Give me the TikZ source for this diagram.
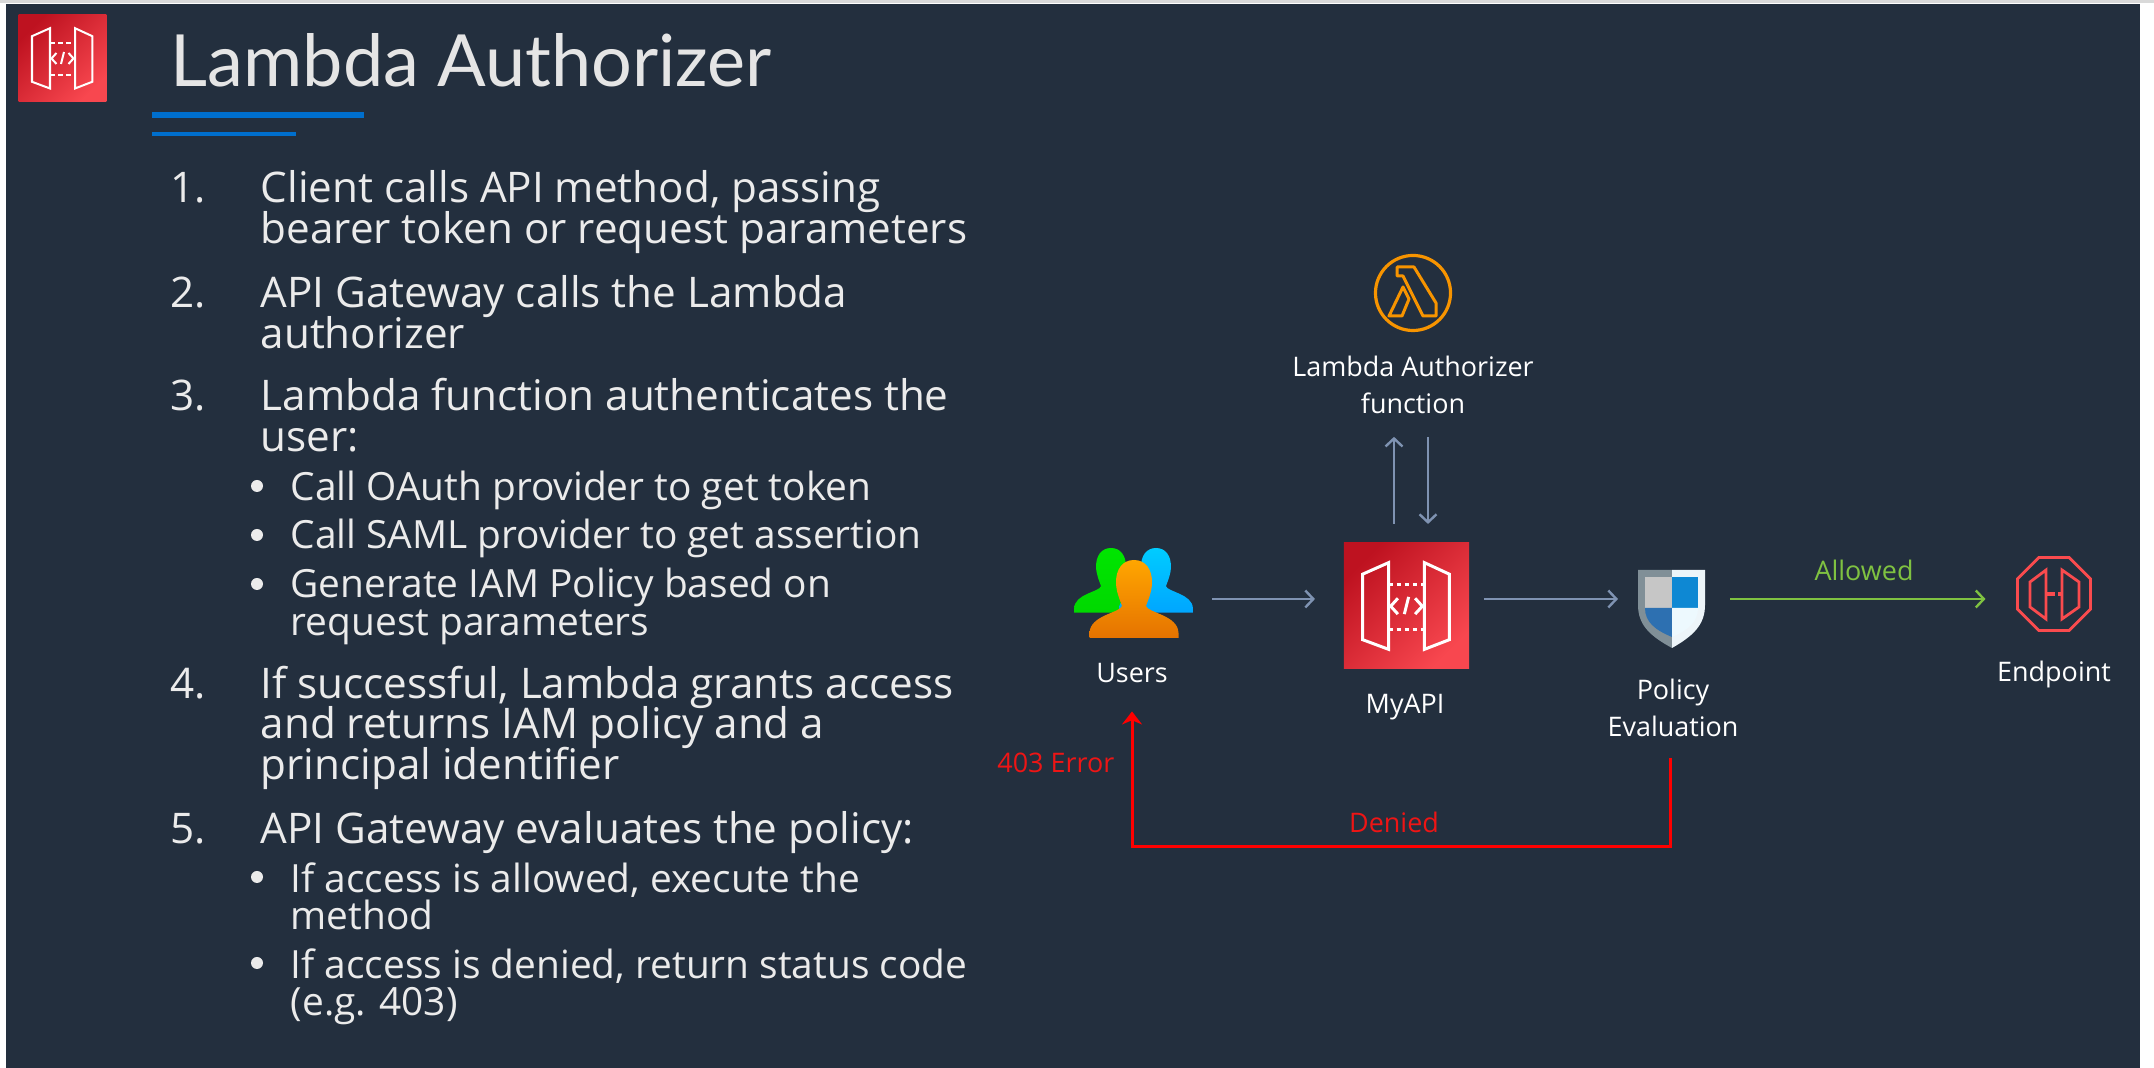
\documentclass[tikz,border=0pt]{standalone}
\usepackage{fontspec}
\setmainfont{Open Sans}
\newfontfamily\titlefont{Lato}
\usetikzlibrary{arrows.meta, shapes.geometric}

\definecolor{slate}{HTML}{232F3E}
\definecolor{flowgray}{HTML}{7F93B2}
\definecolor{allowgreen}{HTML}{7FC241}
\definecolor{denyred}{HTML}{FF0000}
\definecolor{errorred}{HTML}{EE1515}
\definecolor{lambdaorange}{HTML}{F79400}
\definecolor{endred}{HTML}{FA4B4E}
\definecolor{barblue}{HTML}{006FCD}
\definecolor{apilow}{HTML}{BE1220}
\definecolor{apihigh}{HTML}{F8474F}

\tikzset{
  itemtext/.style={anchor=base west, inner sep=0, text=white!92!black, font=\fontsize{12}{14}\selectfont},
  subtext/.style={itemtext, font=\fontsize{11.05}{14}\selectfont},
  difflabel/.style={inner sep=0, align=center, text=white, font=\fontsize{7.66}{10.67}\selectfont},
  iconbox/.style={inner sep=0, outer sep=0},
  apibox/.style={iconbox, shading=axis, left color=apilow, right color=apihigh, shading angle=45},
  flow/.style={flowgray, line width=.024cm, -{Straight Barb[length=.08cm, width=.17cm]}},
  allow/.style={allowgreen, line width=.024cm, -{Straight Barb[length=.08cm, width=.17cm]}},
  deny/.style={denyred, line width=.03cm, -{Stealth[length=.13cm, width=.2cm]}},
  pics/apidoors/.style={code={
      \draw[white] (-30.5,-21.8) -- (-12.5,-29.8) -- (-12.5,30.5) -- (-30.5,23.8) -- cycle;
      \draw[white] (12.5,-29.8) -- (29.8,-21.8) -- (29.8,23.8) -- (12.5,30.5) -- cycle;
      \draw[white, dash pattern=on 1.3pt off 1pt] (-12.5,-14.5) -- (12.5,-14.5);
      \draw[white, dash pattern=on 1.3pt off 1pt] (-12.5,17) -- (12.5,17);
      \draw[white] (-6,-5) -- (-11,.5) -- (-6,6);
      \draw[white] (6,-5) -- (11,.5) -- (6,6);
      \draw[white] (-1.5,6) -- (1.5,-6);
  }},
  pics/person/.style 2 args={code={
      \shade[top color=#1, bottom color=#2]
        (0,0) .. controls (-12,0) and (-18,10) .. (-18,22)
        .. controls (-18,32) and (-14,40) .. (-12,46)
        .. controls (-14,53) and (-44,55) .. (-44.5,73) -- (-44.5,78) -- (44.5,78) -- (44.5,73)
        .. controls (44,55) and (14,53) .. (12,46)
        .. controls (14,40) and (18,32) .. (18,22)
        .. controls (18,10) and (12,0) .. (0,0) -- cycle;
  }},
}

\begin{document}
\begin{tikzpicture}[x=.01cm, y=-.01cm]

  % page, slide
  \useasboundingbox (0,0) rectangle (2154,1068);
  \fill[white] (0,0) rectangle (2154,1068);
  \fill[black!15] (0,0) rectangle (2154,3);
  \fill[slate] (6,4) rectangle (2140,1068);

  % header
  \node[apibox, minimum size=.875cm] (badge) at (62.5,58) {};
  \pic[line width=.02cm] at (badge) {apidoors};
  \node[inner sep=0, anchor=base west, text=white!90!black, font=\titlefont\fontsize{20.47}{24}\selectfont] (title) at (170,87) {Lambda Authorizer};
  \fill[barblue] (152,112) rectangle (364,118);
  \fill[barblue] (152,132) rectangle (296,136);

  % numbered list
  \foreach \y/\n in {203/1., 308/2., 411/3., 699/4., 844/5.}
    \node[itemtext] (num\n) at (170,\y) {\n};
  \foreach \y/\t [count=\i] in {203/{Client calls API method, passing}, 244/{bearer token or request parameters},
      308/{API Gateway calls the Lambda}, 349/{authorizer},
      411/{Lambda function authenticates the}, 452/{user:},
      699/{If successful, Lambda grants access}, 739/{and returns IAM policy and a}, 780/{principal identifier},
      844/{API Gateway evaluates the policy:}}
    \node[itemtext] (item\i) at (260,\y) {\t};
  % sub items
  \foreach \y/\t [count=\i] in {501/{Call OAuth provider to get token}, 549/{Call SAML provider to get assertion},
      598/{Generate IAM Policy based on}, 636/{request parameters},
      893/{If access is allowed, execute the}, 930/{method},
      979/{If access is denied, return status code}, 1016/{(e.g. 403)}}
    \node[subtext] (sub\i) at (290,\y) {\t};
  \foreach \y in {486, 535, 584, 877, 963}
    \fill[white!92!black] (257,\y) circle (6);

  % diagram icons
  \node[iconbox, draw=lambdaorange, line width=.032cm, circle, minimum size=.75cm] (lambda) at (1413,293) {};
  \draw[lambdaorange, line width=.03cm, line join=round] (1397,267) -- (1414,267) -- (1436,303) -- (1436,316) -- (1423,316) -- (1403,276) -- (1397,276) -- cycle;
  \draw[lambdaorange, line width=.03cm, line join=round] (1403,287) -- (1409,299) -- (1402,316) -- (1389,316) -- cycle;

  \node[iconbox, minimum width=1.19cm, minimum height=.9cm] (users) at (1134.5,593) {};
  \pic[scale=.83] at (1111,548) {person={green!90!black}{green!85!black}};
  \pic[scale=.83] at (1156,548) {person={cyan!80!blue}{cyan!65!blue}};
  \pic at (1134,560) {person={orange!70!yellow}{orange!90!black}};

  \node[apibox, minimum size=1.25cm] (myapi) at (1406.5,605.5) {};
  \pic[scale=1.437, line width=.03cm] at (myapi) {apidoors};

  \node[iconbox, minimum width=.67cm, minimum height=.78cm] (shield) at (1671.5,609) {};
  \fill[black!35!cyan!25!gray] (1638,570) -- (1672,570) -- (1672,648) .. controls (1650,636) and (1638,625) .. (1638,605) -- cycle;
  \fill[gray!50!cyan!10!white] (1672,570) -- (1705,570) -- (1705,605) .. controls (1705,625) and (1693,636) .. (1672,648) -- cycle;
  \fill[gray!45!white] (1645,577) rectangle (1672,608);
  \fill[cyan!70!blue] (1672,577) rectangle (1698,608);
  \fill[cyan!55!blue!85!black] (1645,608) -- (1672,608) -- (1672,637) .. controls (1655,630) and (1645,622) .. (1645,608) -- cycle;
  \fill[white!93!cyan] (1672,608) -- (1698,608) .. controls (1698,622) and (1688,630) .. (1672,637) -- cycle;

  \node[iconbox, draw=endred, line width=.028cm, regular polygon, regular polygon sides=8, minimum size=.79cm] (endpoint) at (2054,594) {};
  \draw[endred, line width=.028cm] (2046,570) -- (2046,619) -- (2030,607) -- (2030,582) -- cycle;
  \draw[endred, line width=.028cm] (2062,570) -- (2062,619) -- (2079,607) -- (2079,582) -- cycle;
  \draw[endred, line width=.035cm, dash pattern=on 2.5pt off 1pt] (2046,594) -- (2062,594);

  % labels
  \node[difflabel] (lambdalabel) at (1413,385) {Lambda Authorizer\\function};
  \node[difflabel] (userslabel) at (1132,673) {Users};
  \node[difflabel] (myapilabel) at (1405,707) {MyAPI};
  \node[difflabel] (policylabel) at (1673,708) {Policy\\Evaluation};
  \node[difflabel] (endpointlabel) at (2054,675) {Endpoint};
  \node[difflabel, text=allowgreen] (allowedlabel) at (1864,570) {Allowed};
  \node[difflabel, text=errorred] (deniedlabel) at (1394,822) {Denied};
  \node[difflabel, text=errorred, anchor=east] (errorlabel) at (1115,763) {403 Error};

  % connectors
  \coordinate (flowrow) at (0,599);
  \coordinate (uplane) at (1394,0);
  \coordinate (downlane) at (1428,0);
  \coordinate (denylane) at (1670,0);
  \coordinate (denyrow) at (0,847);
  \draw[flow, shorten <=.18cm, shorten >=.29cm] (users.east |- flowrow) -- (myapi.west |- flowrow);
  \draw[flow, shorten <=.15cm, shorten >=.2cm] (myapi.east |- flowrow) -- (shield.west |- flowrow);
  \draw[allow, shorten <=.25cm, shorten >=.32cm] (shield.east |- flowrow) -- (endpoint.west |- flowrow);
  \draw[flow, shorten <=.19cm, shorten >=.22cm] (myapi.north -| uplane) -- (lambdalabel.south -| uplane);
  \draw[flow, shorten >=.19cm, shorten <=.22cm] (lambdalabel.south -| downlane) -- (myapi.north -| downlane);
  \draw[deny, shorten <=.2cm, shorten >=.28cm] (policylabel.south -| denylane) -- (denylane |- denyrow) -| (userslabel.south);

\end{tikzpicture}
\end{document}
